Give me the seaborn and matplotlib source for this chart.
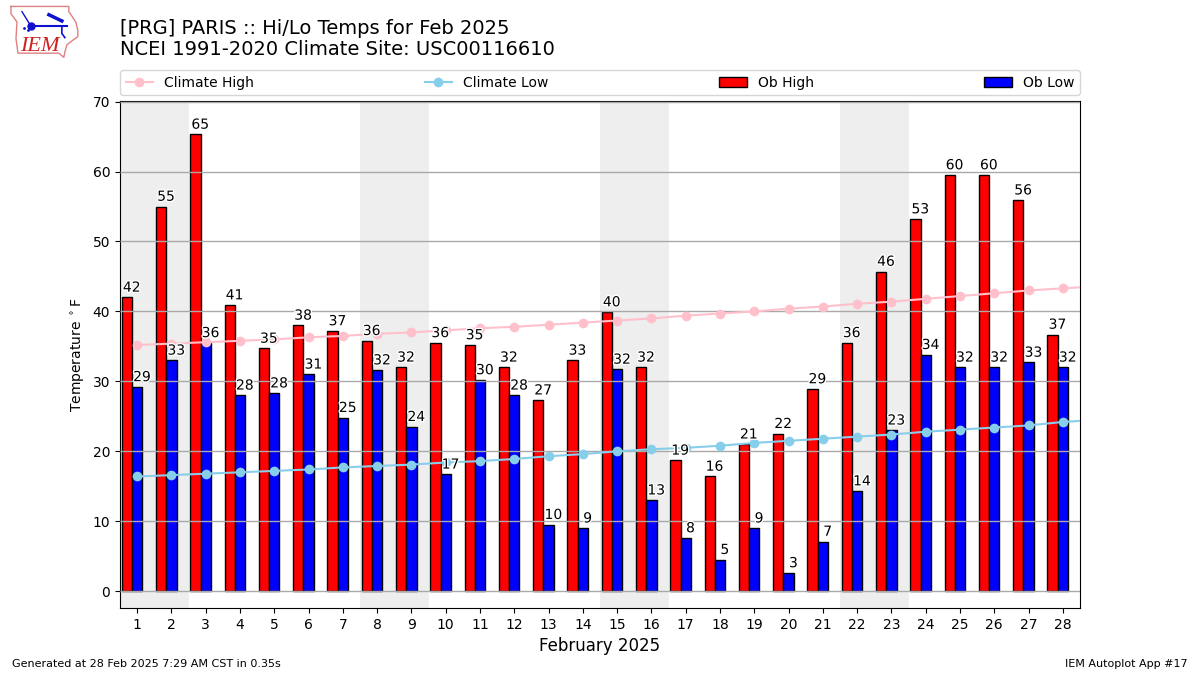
import matplotlib
matplotlib.use('Agg')
import matplotlib.pyplot as plt
import matplotlib.patheffects as pe
import numpy as np
import seaborn as sns

days = list(range(1, 29))
ob_high = [42.0, 55.0, 65.3, 40.9, 34.7, 38.0, 37.2, 35.8, 32.0, 35.5, 35.2, 32.0, 27.3, 33.0,
           39.9, 32.0, 18.7, 16.4, 21.0, 22.5, 28.9, 35.5, 45.7, 53.2, 59.5, 59.5, 55.9, 36.7]
ob_low = [29.2, 33.0, 35.5, 28.0, 28.3, 31.0, 24.8, 31.6, 23.5, 16.7, 30.2, 28.0, 9.5, 9.0,
          31.7, 13.0, 7.6, 4.5, 9.0, 2.6, 7.1, 14.3, 23.0, 33.8, 32.0, 32.0, 32.7, 32.0]
high_labels = [42, 55, 65, 41, 35, 38, 37, 36, 32, 36, 35, 32, 27, 33,
               40, 32, 19, 16, 21, 22, 29, 36, 46, 53, 60, 60, 56, 37]
low_labels = [29, 33, 36, 28, 28, 31, 25, 32, 24, 17, 30, 28, 10, 9,
              32, 13, 8, 5, 9, 3, 7, 14, 23, 34, 32, 32, 33, 32]

# climate runs one day past the end of the month, the axis clips it
climate_days = list(range(1, 30))
climate_high = [35.2, 35.4, 35.6, 35.8, 36.0, 36.3, 36.5, 36.8, 37.0, 37.3, 37.6, 37.8, 38.1, 38.4, 38.7,
                39.0, 39.4, 39.7, 40.0, 40.4, 40.7, 41.1, 41.4, 41.8, 42.2, 42.6, 43.0, 43.3, 43.6]
climate_low = [16.4, 16.6, 16.8, 17.0, 17.2, 17.4, 17.7, 17.9, 18.1, 18.4, 18.6, 18.9, 19.3, 19.6, 20.0,
               20.3, 20.5, 20.8, 21.2, 21.5, 21.8, 22.1, 22.4, 22.8, 23.1, 23.4, 23.7, 24.2, 24.5]
weekends = [1, 8, 15, 22]

fig = plt.figure(figsize=(12, 6.75), dpi=100)
ax = fig.add_axes([0.1, 0.0993, 0.8, 0.7512])

for start in weekends:
    ax.axvspan(start - 0.5, start + 1.5, color='#eeeeee', lw=0, zorder=0)

high_x = np.array(days) - 0.3
sns.barplot(x=high_x, y=ob_high, native_scale=True, width=0.3, color='red', saturation=1,
            edgecolor='black', linewidth=1, label='Ob High', ax=ax, zorder=1)
sns.barplot(x=np.array(days, dtype=float), y=ob_low, native_scale=True, width=0.3, color='blue', saturation=1,
            edgecolor='black', linewidth=1, label='Ob Low', ax=ax, zorder=1)
sns.lineplot(x=climate_days, y=climate_high, color='pink', marker='o', markersize=7, markeredgewidth=0,
             linewidth=1.5, label='Climate High', ax=ax, zorder=3)
sns.lineplot(x=climate_days, y=climate_low, color='skyblue', marker='o', markersize=7, markeredgewidth=0,
             linewidth=1.5, label='Climate Low', ax=ax, zorder=3)

halo = [pe.withStroke(linewidth=2, foreground='white')]
for d, h, l, ht, lt in zip(days, ob_high, ob_low, high_labels, low_labels):
    ax.text(d - 0.16, h + 0.4, str(ht), ha='center', va='bottom', fontsize=10, path_effects=halo, zorder=5)
    ax.text(d + 0.14, l + 0.4, str(lt), ha='center', va='bottom', fontsize=10, path_effects=halo, zorder=5)

ax.set_xlim(0.5, 28.5)
ax.set_ylim(-2.4, 70.1)
ax.set_xticks(days)
ax.set_xticklabels([str(d) for d in days])
ax.set_yticks(range(0, 71, 10))
ax.yaxis.grid(True, color='darkgray', linewidth=1, zorder=2)
ax.xaxis.grid(False)
ax.set_axisbelow(False)
ax.set_xlabel('February 2025', fontsize=12)
ax.set_ylabel(r'Temperature $^\circ$F', fontsize=10)

handles, labels = ax.get_legend_handles_labels()
order = [labels.index(n) for n in ['Climate High', 'Climate Low', 'Ob High', 'Ob Low']]
ax.legend([handles[i] for i in order], [labels[i] for i in order], ncol=4, mode='expand', fontsize=10,
          loc='lower left', bbox_to_anchor=(0, 1.0115, 1, 0.05), borderaxespad=0)

fig.text(0.1, 0.912, '[PRG] PARIS :: Hi/Lo Temps for Feb 2025\nNCEI 1991-2020 Climate Site: USC00116610',
         fontsize=14, ha='left', va='bottom', linespacing=1.15)
fig.text(0.01, 0.0085, 'Generated at 28 Feb 2025 7:29 AM CST in 0.35s', fontsize=8, ha='left', va='bottom')
fig.text(0.99, 0.0085, 'IEM Autoplot App #17', fontsize=8, ha='right', va='bottom')

# small logo: state outline with station sketch
logo = fig.add_axes([0.0075, 0.912, 0.064, 0.08])
logo.axis('off')
logo.set_xlim(0, 77)
logo.set_ylim(52, 0)
outline_x = [2, 60, 60, 67, 69, 69, 62, 58, 56, 55, 50, 9, 7, 8, 2, 2]
outline_y = [1, 1, 6, 16, 24, 30, 35, 38, 45, 50, 46, 46, 32, 16, 8, 1]
logo.plot(outline_x, outline_y, color='#e08080', lw=1)
logo.plot([22, 58], [20, 20], color='#1010d0', lw=1.5)
logo.plot([13, 22], [6, 20], color='#1010d0', lw=1)
logo.plot([40, 53], [9, 15], color='#1010d0', lw=2.5)
logo.plot([53, 53, 56], [20, 27, 31], color='#1010d0', lw=1.2)
logo.plot([22], [20], marker='o', ms=5, color='#1010d0')
logo.plot([15, 19], [22, 24], ls='none', marker='.', ms=2, color='#1010d0')
logo.text(11, 44, 'IEM', color='#d02020', fontsize=16, family='Liberation Serif', style='italic', ha='left', va='baseline')

fig.savefig('out.png', dpi=100)
